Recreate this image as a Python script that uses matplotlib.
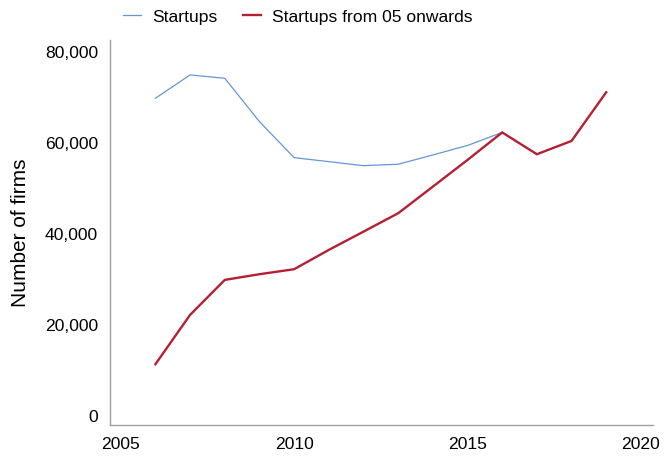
import matplotlib.pyplot as plt
from matplotlib.ticker import FuncFormatter

plt.rcParams["font.family"] = ["Liberation Sans", "DejaVu Sans"]

# Datos
years_all = [2006, 2007, 2008, 2009, 2010, 2011, 2012, 2013, 2014, 2015, 2016]
startups = [69750, 74870, 74140, 64620, 56710, 55830, 54950, 55260, 57300, 59390, 62250]

years_05 = [2006, 2007, 2008, 2009, 2010, 2011, 2012, 2013, 2014, 2015, 2016, 2017, 2018, 2019]
startups_05 = [11350, 22180, 29860, 31110, 32210, 36450, 40460, 44500, 50340, 56210, 62250,
               57460, 60380, 71070]

x_ticks = [2005, 2010, 2015, 2020]
y_ticks = [0, 20000, 40000, 60000, 80000]

COR_AZUL = "#6596d2"
COR_VERM = "#b51f33"

fig = plt.figure(figsize=(6.65, 4.59), dpi=100)
ax = fig.add_axes([0.1654, 0.0741, 0.9815 - 0.1654, 0.9129 - 0.0741])

ax.plot(years_all, startups, color=COR_AZUL, lw=0.9, label="Startups")
ax.plot(years_05, startups_05, color=COR_VERM, lw=1.7, label="Startups from 05 onwards")

ax.set_xlim(2004.69, 2020.34)
ax.set_ylim(-2000, 82550)
ax.set_xticks(x_ticks)
ax.set_yticks(y_ticks)
ax.yaxis.set_major_formatter(FuncFormatter(lambda v, p: f"{int(v):,}"))

for lado in ["top", "right"]:
    ax.spines[lado].set_visible(False)
for lado in ["left", "bottom"]:
    ax.spines[lado].set_color("#a0a0a0")
    ax.spines[lado].set_linewidth(1.0)

ax.tick_params(axis="both", length=0, pad=8.5, labelsize=12.6, colors="black")
ax.set_ylabel("Number of firms", fontsize=15, labelpad=11)

fig.legend(
    loc="center",
    bbox_to_anchor=(0.448, 0.963),
    ncol=2,
    frameon=False,
    fontsize=12.6,
    handlelength=1.03,
    handletextpad=0.6,
    columnspacing=1.5,
)

fig.savefig("out.png", dpi=100)
plt.close(fig)
